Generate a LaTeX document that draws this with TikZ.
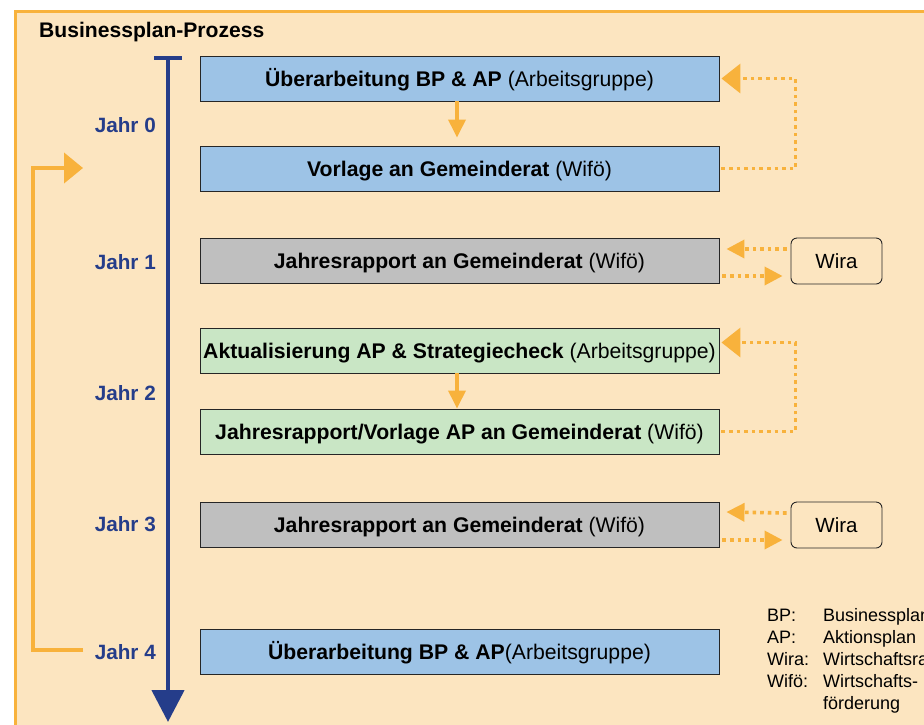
\documentclass[tikz,border=0pt]{standalone}
\usepackage{fontspec}
\setmainfont{Liberation Sans}
\usetikzlibrary{arrows.meta}
\definecolor{bgpeach}{HTML}{FCE5C0}
\definecolor{orng}{HTML}{F8B23C}
\definecolor{boxblue}{HTML}{9DC3E6}
\definecolor{boxgray}{HTML}{BFBFBF}
\definecolor{boxgreen}{HTML}{C9E6C5}
\definecolor{dblue}{HTML}{253D8A}
\tikzset{
  stepbox/.style={draw=black!85, line width=0.9pt, minimum width=519pt, minimum height=45pt, inner sep=0pt, text height=15pt, text depth=0pt, font=\fontsize{21.2}{25}\selectfont},
  wirabox/.style={draw=black!85, line width=0.9pt, rounded corners=6pt, minimum width=91pt, minimum height=46pt, inner sep=0pt, text height=15pt, text depth=0pt, font=\fontsize{20.5}{24}\selectfont},
  jahr/.style={anchor=east, text=dblue, font=\bfseries\fontsize{20.7}{24}\selectfont, inner sep=0pt},
  legtxt/.style={anchor=base west, inner sep=0pt, font=\fontsize{18}{22}\selectfont},
  flowarrow/.style={draw=orng, line width=3.5pt, -{Triangle[length=18pt,width=17pt]}},
  feedarrow/.style={draw=orng, line width=3.6pt, dash pattern=on 3.6pt off 4pt, -{Triangle[length=19pt,width=29pt]}},
  wiraarrow/.style={draw=orng, line width=3.6pt, dash pattern=on 3.6pt off 4pt, -{Triangle[length=18pt,width=18pt]}},
  looparrow/.style={draw=orng, line width=4pt, -{Triangle[length=19pt,width=30pt]}},
}
\begin{document}
\begin{tikzpicture}[x=1pt,y=-1pt]
\useasboundingbox (0,0) rectangle (924,724);
\clip (0,0) rectangle (924,724);
\fill[white] (0,0) rectangle (924,724);
\draw[orng, line width=3pt, fill=bgpeach] (15.5,11.5) rectangle (950,750);

\node[anchor=west, inner sep=0pt, font=\bfseries\fontsize{21.1}{25}\selectfont] (title) at (39,32.5) {Businessplan-Prozess};

% timeline
\coordinate (ttop) at (168,57);
\coordinate (tbot) at (168,722);
\draw[dblue, line width=4.5pt, -{Triangle[length=32pt,width=32pt]}] (ttop) -- (tbot);
\coordinate (tbl) at (154,57.5);
\coordinate (tbr) at (182,57.5);
\draw[dblue, line width=4pt] (tbl) -- (tbr);

% boxes
\node[stepbox, fill=boxblue] (b1) at (459.5,78.5) {\textbf{Überarbeitung BP \& AP} (Arbeitsgruppe)};
\node[stepbox, fill=boxblue] (b2) at (459.5,168.5) {\textbf{Vorlage an Gemeinderat} (Wifö)};
\node[stepbox, fill=boxgray] (b3) at (459.5,260.5) {\textbf{Jahresrapport an Gemeinderat} (Wifö)};
\node[stepbox, fill=boxgreen] (b4) at (459.5,350.5) {\textbf{Aktualisierung AP \& Strategiecheck} (Arbeitsgruppe)};
\node[stepbox, fill=boxgreen] (b5) at (459.5,431.5) {\textbf{Jahresrapport/Vorlage AP an Gemeinderat} (Wifö)};
\node[stepbox, fill=boxgray] (b6) at (459.5,524.5) {\textbf{Jahresrapport an Gemeinderat} (Wifö)};
\node[stepbox, fill=boxblue] (b7) at (459.5,651.5) {\textbf{Überarbeitung BP \& AP}(Arbeitsgruppe)};

\node[wirabox] (w1) at (836.5,261) {Wira};
\node[wirabox] (w2) at (836.5,525) {Wira};

% year labels
\node[jahr] (j0) at (156,125) {Jahr 0};
\node[jahr] (j1) at (156,262) {Jahr 1};
\node[jahr] (j2) at (156,393) {Jahr 2};
\node[jahr] (j3) at (156,524) {Jahr 3};
\node[jahr] (j4) at (156,652) {Jahr 4};

% flow arrows
\draw[flowarrow, shorten >=8pt] ([xshift=-2.5pt]b1.south) -- ([xshift=-2.5pt]b2.north);
\draw[flowarrow] ([xshift=-2.5pt]b4.south) -- ([xshift=-2.5pt]b5.north);

% feedback loops
\coordinate (fb1) at (795.5,168.5);
\coordinate (fb1t) at (795.5,78.5);
\draw[feedarrow] ([xshift=2pt]b2.east) -- (fb1) -- (fb1t) -- ([xshift=2pt]b1.east);
\coordinate (fb2) at (795.5,431.5);
\coordinate (fb2t) at (795.5,342.5);
\draw[feedarrow] ([xshift=2pt]b5.east) -- (fb2) -- (fb2t) -- ([xshift=2pt,yshift=8pt]b4.east);

% Wira arrows
\draw[wiraarrow] ([xshift=-4pt,yshift=12pt]w1.west) -- ([xshift=7pt,yshift=11.5pt]b3.east);
\draw[wiraarrow] ([xshift=3pt,yshift=-15.5pt]b3.east) -- ([xshift=-8pt,yshift=-15pt]w1.west);
\draw[wiraarrow] ([xshift=-4pt,yshift=12pt]w2.west) -- ([xshift=7pt,yshift=12.5pt]b6.east);
\draw[wiraarrow] ([xshift=3pt,yshift=-15.5pt]b6.east) -- ([xshift=-8pt,yshift=-15pt]w2.west);

% big loop
\coordinate (lp0) at (83,650);
\coordinate (lp1) at (33,650);
\coordinate (lp2) at (33,168);
\coordinate (lp3) at (83,168);
\draw[looparrow] (lp0) -- (lp1) -- (lp2) -- (lp3);

% legend
\node[legtxt] (la1) at (767,621.5) {BP:};
\node[legtxt] (lb1) at (823,621.5) {Businessplan};
\node[legtxt] (la2) at (767,643.5) {AP:};
\node[legtxt] (lb2) at (823,643.5) {Aktionsplan};
\node[legtxt] (la3) at (767,665.5) {Wira:};
\node[legtxt] (lb3) at (823,665.5) {Wirtschaftsrat};
\node[legtxt] (la4) at (767,687.5) {Wifö:};
\node[legtxt] (lb4) at (823,687.5) {Wirtschafts-};
\node[legtxt] (lb5) at (823,709.5) {förderung};
\end{tikzpicture}
\end{document}
